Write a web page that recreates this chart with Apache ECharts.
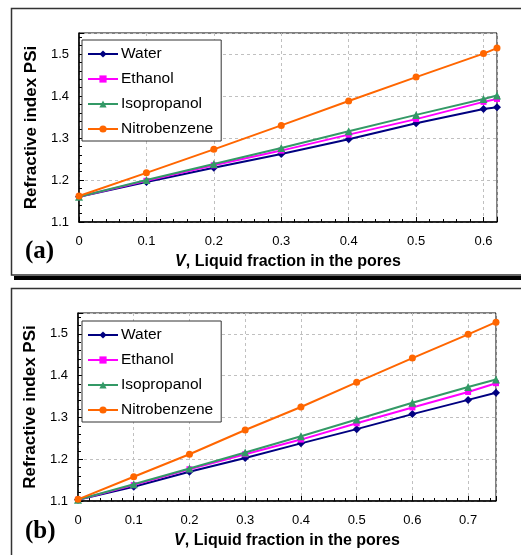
<!DOCTYPE html>
<html>
<head>
<meta charset="utf-8">
<script src="https://cdn.jsdelivr.net/npm/echarts@6/dist/echarts.min.js"></script>
<style>
html,body{margin:0;padding:0;background:#fff;}
#chart{width:521px;height:555px;}
</style>
</head>
<body>
<div id="chart"></div>
<script>
// ---- Data ----
const seriesNames = ['Water', 'Ethanol', 'Isopropanol', 'Nitrobenzene'];

// Panel (a)
const xA = [0, 0.1, 0.2, 0.3, 0.4, 0.5, 0.6, 0.62];
const waterA = [1.160, 1.195, 1.229, 1.262, 1.297, 1.335, 1.369, 1.373];
const ethanolA = [1.160, 1.198, 1.235, 1.270, 1.308, 1.345, 1.386, 1.393];
const isopropanolA = [1.160, 1.200, 1.238, 1.276, 1.316, 1.355, 1.393, 1.401];
const nitrobenzeneA = [1.162, 1.217, 1.273, 1.330, 1.388, 1.445, 1.501, 1.514];

// Panel (b)
const xB = [0, 0.1, 0.2, 0.3, 0.4, 0.5, 0.6, 0.7, 0.75];
const waterB = [1.103, 1.134, 1.170, 1.203, 1.238, 1.272, 1.308, 1.342, 1.359];
const ethanolB = [1.103, 1.138, 1.176, 1.212, 1.247, 1.286, 1.324, 1.361, 1.382];
const isopropanolB = [1.103, 1.140, 1.178, 1.216, 1.255, 1.295, 1.335, 1.373, 1.391];
const nitrobenzeneB = [1.104, 1.158, 1.212, 1.270, 1.325, 1.384, 1.442, 1.499, 1.528];

const yTicks = [1.1, 1.2, 1.3, 1.4, 1.5];
const xTicksA = [0, 0.1, 0.2, 0.3, 0.4, 0.5, 0.6];
const xTicksB = [0, 0.1, 0.2, 0.3, 0.4, 0.5, 0.6, 0.7];

// ---- Styles ----
const colors = ['#000080', '#FF00FF', '#339966', '#FF6600'];
const symbols = ['diamond', 'rect', 'triangle', 'circle'];
const symbolSizes = [8, 6, 8, 7];
const FONT = 'Liberation Sans, Arial, sans-serif';

function pairs(xs, ys) { return xs.map((x, i) => [x, ys[i]]); }

function mkSeries(idx, xs, ys, gi) {
  return {
    name: seriesNames[idx], type: 'line',
    xAxisIndex: gi, yAxisIndex: gi,
    data: pairs(xs, ys),
    symbol: symbols[idx], symbolSize: symbolSizes[idx],
    lineStyle: { color: colors[idx], width: 2 },
    itemStyle: { color: colors[idx] },
    animation: false, z: 3 + idx
  };
}

function mkX(gi, max, ticks) {
  return {
    type: 'value', gridIndex: gi, min: 0, max: max, interval: 0.1,
    name: '{i|V}, Liquid fraction in the pores',
    nameLocation: 'middle', nameGap: 32,
    nameTextStyle: { fontFamily: FONT, fontSize: 16, fontWeight: 'bold', color: '#000',
      rich: { i: { fontFamily: FONT, fontSize: 16, fontWeight: 'bold', fontStyle: 'italic', color: '#000' } } },
    axisLine: { show: true, onZero: false, lineStyle: { color: '#000', width: 1.5 } },
    axisTick: { show: true, inside: true, length: 5, lineStyle: { color: '#000' } },
    minorTick: { show: true, splitNumber: 5, length: 3, lineStyle: { color: '#000' } },
    axisLabel: { fontFamily: FONT, fontSize: 13, color: '#000', margin: 13, showMaxLabel: false,
      formatter: v => ticks.some(t => Math.abs(t - v) < 1e-9) ? String(v) : '' },
    splitLine: { show: true, lineStyle: { color: '#c0c0c0', type: [3, 3], width: 1 } }
  };
}

function mkY(gi) {
  return {
    type: 'value', gridIndex: gi, min: 1.1, max: 1.55, interval: 0.1,
    name: 'Refractive index PSi',
    nameLocation: 'middle', nameGap: 39, nameRotate: 90,
    nameTextStyle: { fontFamily: FONT, fontSize: 17, fontWeight: 'bold', color: '#000' },
    axisLine: { show: true, lineStyle: { color: '#000', width: 1.5 } },
    axisTick: { show: true, inside: true, length: 5, lineStyle: { color: '#000' } },
    minorTick: { show: true, splitNumber: 5, length: 3, lineStyle: { color: '#000' } },
    axisLabel: { fontFamily: FONT, fontSize: 13, color: '#000', margin: 10, showMaxLabel: false,
      formatter: v => yTicks.some(t => Math.abs(t - v) < 1e-9) ? v.toFixed(1) : '' },
    splitLine: { show: true, lineStyle: { color: '#c0c0c0', type: [3, 3], width: 1 } }
  };
}

function mkLegend(top) {
  return {
    data: seriesNames, orient: 'vertical', left: 82, top: top,
    itemWidth: 30, itemHeight: 9, itemGap: 7,
    padding: [5, 8, 3, 5],
    backgroundColor: '#fff', borderColor: '#333', borderWidth: 1, borderRadius: 0,
    textStyle: { fontFamily: FONT, fontSize: 15.5, color: '#000', lineHeight: 18, padding: [0, 0, 0, -2] },
    selectedMode: false
  };
}

const series = [];
[waterA, ethanolA, isopropanolA, nitrobenzeneA].forEach((ys, i) => series.push(mkSeries(i, xA, ys, 0)));
[waterB, ethanolB, isopropanolB, nitrobenzeneB].forEach((ys, i) => series.push(mkSeries(i, xB, ys, 1)));

const option = {
  backgroundColor: '#fff',
  animation: false,
  grid: [
    { left: 79, top: 33, width: 418, height: 189, show: true, borderColor: '#000', borderWidth: 1, backgroundColor: 'transparent' },
    { left: 78, top: 313, width: 418, height: 188, show: true, borderColor: '#000', borderWidth: 1, backgroundColor: 'transparent' }
  ],
  xAxis: [mkX(0, 0.62, xTicksA), mkX(1, 0.75, xTicksB)],
  yAxis: [mkY(0), mkY(1)],
  legend: [mkLegend(40), mkLegend(321)],
  series: series,
  graphic: [
    { type: 'rect', shape: { x: 11.5, y: 8.5, width: 530, height: 266.5 }, style: { fill: 'none', stroke: '#333', lineWidth: 1.5 }, z: -10 },
    { type: 'rect', shape: { x: 14, y: 276, width: 520, height: 4 }, style: { fill: '#000' }, z: -10 },
    { type: 'rect', shape: { x: 11.5, y: 288.5, width: 530, height: 290 }, style: { fill: 'none', stroke: '#333', lineWidth: 1.5 }, z: -10 },
    { type: 'text', left: 25, top: 239, style: { text: '(a)', font: 'bold 25px "Liberation Serif", "Times New Roman", serif', fill: '#000' } },
    { type: 'text', left: 25, top: 519, style: { text: '(b)', font: 'bold 25px "Liberation Serif", "Times New Roman", serif', fill: '#000' } }
  ]
};

const chart = echarts.init(document.getElementById('chart'), null, { renderer: 'canvas' });
chart.setOption(option);
</script>
</body>
</html>
